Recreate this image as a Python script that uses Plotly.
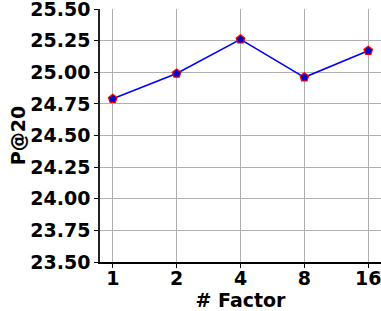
import plotly.graph_objects as go

factors = ["1", "2", "4", "8", "16"]
p_at_20 = [24.79, 24.99, 25.26, 24.96, 25.17]
y_ticks = [23.50, 23.75, 24.00, 24.25, 24.50, 24.75, 25.00, 25.25, 25.50]

pos = list(range(len(factors)))

fig = go.Figure()
fig.add_trace(go.Scatter(
    x=pos, y=p_at_20, mode="lines+markers",
    line=dict(color="#0000ff", width=1.5),
    marker=dict(symbol="pentagon", size=9, color="#0000cc",
                line=dict(color="#ff0000", width=1.2)),
    showlegend=False, cliponaxis=False,
))

font_b = dict(family="DejaVu Sans", size=19, color="black")

fig.update_layout(
    width=381, height=311,
    margin=dict(l=100, r=0, t=9, b=49),
    plot_bgcolor="white", paper_bgcolor="white",
    font=dict(family="DejaVu Sans", color="black"),
)
fig.update_xaxes(
    range=[-0.2, 4.2], tickvals=pos, ticktext=[f"<b>{f}</b>" for f in factors],
    tickfont=font_b, ticks="outside", ticklen=4, tickcolor="black",
    ticklabelstandoff=-6,
    showgrid=True, gridcolor="#b0b0b0", gridwidth=1,
    showline=True, linecolor="black", linewidth=1.5, mirror=False,
    title=dict(text="<b># Factor</b>", font=font_b, standoff=0),
    zeroline=False, automargin=False, ticklabeloverflow="allow",
)
fig.update_yaxes(
    range=[23.5, 25.5], tickvals=y_ticks,
    ticktext=[f"<b>{v:.2f}</b>" for v in y_ticks],
    tickfont=font_b, ticks="outside", ticklen=4, tickcolor="black",
    showgrid=True, gridcolor="#b0b0b0", gridwidth=1,
    showline=True, linecolor="#222222", linewidth=1.5, mirror=True,
    title=dict(text="<b>P@20</b>", font=font_b, standoff=0),
    zeroline=False, automargin=False, ticklabeloverflow="allow",
)

fig.write_html("out.html", config={"displayModeBar": False},
               post_script="document.body.style.margin='0';")
